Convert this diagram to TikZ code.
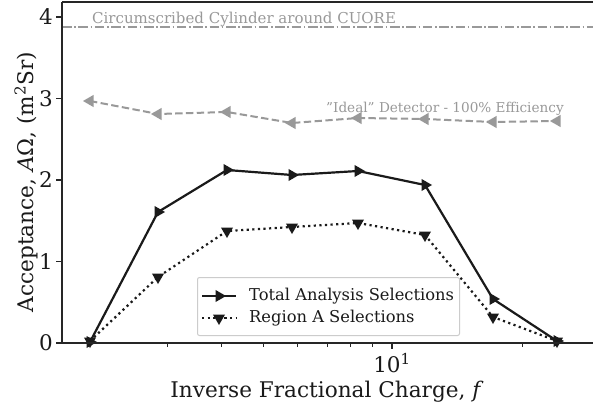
\documentclass[tikz,border=0pt]{standalone}
\usepackage{fontspec}
\setmainfont{DejaVu Serif}
\usetikzlibrary{shapes.geometric}
\definecolor{dk}{HTML}{1A1A1A}
\definecolor{gr}{HTML}{999999}
\definecolor{spinec}{HTML}{262626}
\definecolor{lgd}{HTML}{CCCCCC}
\begin{document}
\begin{tikzpicture}[x=1pt,y=-1pt,
  mk/.style={regular polygon, regular polygon sides=3, inner sep=0pt, minimum size=14pt, draw=none},
  mright/.style={mk, fill=dk, shape border rotate=-90},
  mdown/.style={mk, fill=dk, shape border rotate=180},
  mleft/.style={mk, fill=gr, shape border rotate=90},
  solidline/.style={draw=dk, line width=2.2pt, line join=round},
  dotline/.style={draw=dk, line width=2.2pt, dash pattern=on 2.2pt off 3.4pt},
  idealline/.style={draw=gr, line width=2pt, dash pattern=on 7.4pt off 3.4pt},
  cylline/.style={draw=gr, line width=1.6pt, dash pattern=on 9.6pt off 2.6pt on 1.6pt off 2.6pt},
  spine/.style={draw=spinec, line width=1.4pt},
  tick/.style={draw=spinec, line width=1.2pt},
  ticklabel/.style={font=\fontsize{21.5}{24}\selectfont, text=dk, inner sep=0pt},
  axlabel/.style={font=\fontsize{21.6}{25}\selectfont, text=dk, inner sep=0pt},
  graylabel/.style={text=gr, inner sep=0pt},
  legtext/.style={font=\fontsize{16.3}{19}\selectfont, text=dk, inner sep=0pt, anchor=west}
]
\useasboundingbox (0,0) rectangle (593,415);
\fill[white] (0,0) rectangle (593,415);

% data coordinates (pixels)
\coordinate (t1) at (90,342);
\coordinate (t2) at (158,212);
\coordinate (t3) at (227,170);
\coordinate (t4) at (292,175);
\coordinate (t5) at (358,171);
\coordinate (t6) at (425,185);
\coordinate (t7) at (493,299);
\coordinate (t8) at (557,341);

\coordinate (r1) at (90,341);
\coordinate (r2) at (158,277);
\coordinate (r3) at (227,231);
\coordinate (r4) at (292,227);
\coordinate (r5) at (358,223);
\coordinate (r6) at (425,235);
\coordinate (r7) at (493,317);
\coordinate (r8) at (557,341);

\coordinate (i1) at (90,101);
\coordinate (i2) at (158,114);
\coordinate (i3) at (227,112);
\coordinate (i4) at (292,123);
\coordinate (i5) at (358,118);
\coordinate (i6) at (425,119);
\coordinate (i7) at (493,122);
\coordinate (i8) at (557,121);

% cylinder line
\coordinate (cylA) at (62,27);
\coordinate (cylB) at (593,27);
\draw[cylline] (cylA) -- (cylB);
\node[graylabel, font=\fontsize{15}{17}\selectfont, anchor=base west] (cyltext) at (92,23) {Circumscribed Cylinder around CUORE};

% ideal
\draw[idealline] (i1) -- (i2) -- (i3) -- (i4) -- (i5) -- (i6) -- (i7) -- (i8);
\node[graylabel, font=\fontsize{13.6}{16}\selectfont, anchor=base west] (idealtext) at (326,112.5) {\symbol{34}Ideal\symbol{34} Detector - 100\% Efficiency};
\foreach \k in {1,...,8} \node[mleft] (mi\k) at (i\k) {};

% region A
\draw[dotline] (r1) -- (r2) -- (r3) -- (r4) -- (r5) -- (r6) -- (r7) -- (r8);
% total
\draw[solidline] (t1) -- (t2) -- (t3) -- (t4) -- (t5) -- (t6) -- (t7) -- (t8);
\foreach \k in {1,...,8} \node[mdown] (mr\k) at (r\k) {};
\foreach \k in {1,...,8} \node[mright] (mt\k) at (t\k) {};

% axes spines
\coordinate (o) at (62,343);
\coordinate (yt) at (62,2);
\coordinate (xr) at (593,343);
\coordinate (tr) at (593,2);
\draw[spine] (yt) -- (o) -- (xr);
\draw[spine] (yt) -- (tr);

% y ticks
\foreach \v/\yy in {0/343,1/261.5,2/180,3/98.5,4/17} {
  \coordinate (ytk\v) at (62,\yy);
  \draw[tick] (ytk\v) -- ++(-6,0);
  \node[ticklabel, anchor=east] (yl\v) at (53,\yy) {\v};
}
% x ticks
\coordinate (xmaj) at (392,343);
\draw[tick] (xmaj) -- ++(0,6);
\foreach \xx in {167,221,263,297,327,350,372,522} {
  \coordinate (xm\xx) at (\xx,343);
  \draw[tick, line width=0.9pt] (xm\xx) -- ++(0,3.5);
}
\node[ticklabel, anchor=base] (xl) at (392,372) {10\textsuperscript{1}};

% axis labels
\node[axlabel] (xlab) at (327,392) {Inverse Fractional Charge, \textit{f}};
\node[axlabel, rotate=90] (ylab) at (26,182) {Acceptance, \textit{A}Ω, (m\textsuperscript{2}Sr)};

% legend
\node[draw=lgd, fill=white, fill opacity=0.85, line width=1pt, rounded corners=2pt,
      minimum width=262pt, minimum height=58pt, inner sep=0pt, anchor=north west] (legend) at (197,277) {};
\coordinate (la1) at (202,296);
\coordinate (lb1) at (236,296);
\draw[solidline] (la1) -- (lb1);
\node[mright] (lm1) at (219,296) {};
\node[legtext] (lt1) at (249,296) {Total Analysis Selections};
\coordinate (la2) at (202,318);
\coordinate (lb2) at (236,318);
\draw[dotline] (la2) -- (lb2);
\node[mdown] (lm2) at (219,318) {};
\node[legtext] (lt2) at (249,318) {Region A Selections};
\end{tikzpicture}
\end{document}
